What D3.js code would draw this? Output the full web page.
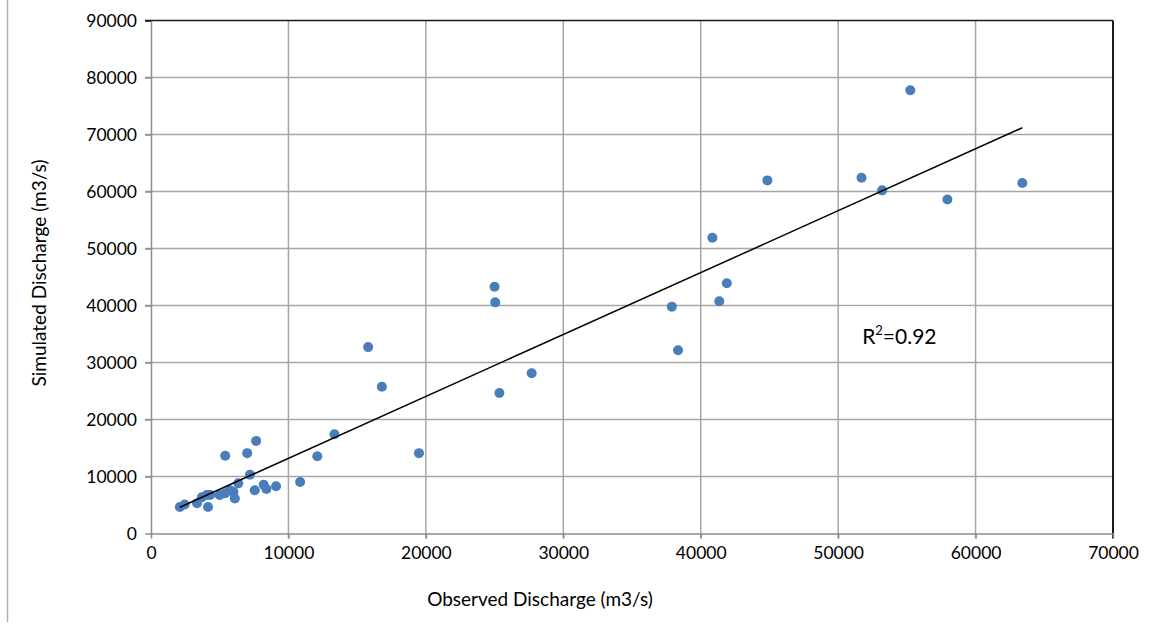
<!DOCTYPE html>
<html lang="en">
<meta charset="utf-8">
<head>
    <script src="https://d3js.org/d3.v7.min.js"></script>
    <style>
        body { margin: 0; background: #fff; }
        text { font-family: Lato, "Open Sans", sans-serif; fill: #000; }
    </style>
</head>
<body>
<script>
    // observed vs simulated discharge (m3/s)
    var observed = [63400, 55250, 51700, 53200, 57950, 44850, 40850, 41900, 41350, 37900,
        38350, 25000, 25050, 15800, 16800, 27700, 25350, 13350, 12100, 19500,
        10850, 7650, 7000, 5400, 7200, 7550, 9100, 8200, 8400, 6350,
        6100, 6000, 5750, 5400, 5000, 4300, 4150, 4050, 3700, 3350,
        2450, 2100];
    var simulated = [61500, 77750, 62400, 60200, 58600, 61950, 51900, 43900, 40750, 39800,
        32150, 43300, 40550, 32700, 25750, 28100, 24650, 17400, 13550, 14100,
        9050, 16250, 14100, 13650, 10300, 7600, 8300, 8550, 7800, 8800,
        6150, 7300, 7600, 7050, 6750, 6750, 4650, 6750, 6350, 5300,
        5100, 4650];
    var xTicks = [0, 10000, 20000, 30000, 40000, 50000, 60000, 70000];
    var yTicks = [0, 10000, 20000, 30000, 40000, 50000, 60000, 70000, 80000, 90000];
    // trend line (from the chart)
    var slope = 1.086;
    var intercept = 2330;
    var r2Label = "0.92";

    var width = 1150, height = 627;
    var marginLeft = 151, marginTop = 20.5, plotW = 962, plotH = 513;

    var svg = d3.select("body")
        .append("svg")
        .attr("width", width)
        .attr("height", height);

    // thin frame line on the far left
    svg.append("line")
        .attr("x1", 7.5).attr("x2", 7.5)
        .attr("y1", 0).attr("y2", 622)
        .attr("stroke", "#b0b0b0")
        .attr("stroke-width", 1.5);

    var g = svg.append("g")
        .attr("transform", "translate(" + marginLeft + "," + marginTop + ")");

    var x = d3.scaleLinear().domain([0, 70000]).range([0, plotW]);
    var y = d3.scaleLinear().domain([0, 90000]).range([plotH, 0]);

    // grid
    g.selectAll(".vgrid")
        .data(xTicks.slice(1, -1))
        .enter().append("line")
        .attr("class", "vgrid")
        .attr("x1", d => x(d)).attr("x2", d => x(d))
        .attr("y1", 0).attr("y2", plotH + 5)
        .attr("stroke", "#a6a6a6").attr("stroke-width", 1.5);

    g.selectAll(".hgrid")
        .data(yTicks.slice(1, -1))
        .enter().append("line")
        .attr("class", "hgrid")
        .attr("x1", -6).attr("x2", plotW)
        .attr("y1", d => y(d)).attr("y2", d => y(d))
        .attr("stroke", "#a6a6a6").attr("stroke-width", 1.5);

    // top & right border (dark)
    g.append("line")
        .attr("x1", -6).attr("x2", plotW)
        .attr("y1", 0).attr("y2", 0)
        .attr("stroke", "#1a1a1a").attr("stroke-width", 1.5);
    g.append("line")
        .attr("x1", plotW).attr("x2", plotW)
        .attr("y1", 0).attr("y2", plotH + 5)
        .attr("stroke", "#1a1a1a").attr("stroke-width", 2);

    // axes
    var xAxis = g.append("g")
        .attr("transform", "translate(0," + plotH + ")")
        .call(d3.axisBottom(x).tickValues(xTicks).tickSize(5).tickSizeOuter(0).tickPadding(8).tickFormat(d3.format("d")));
    var yAxis = g.append("g")
        .call(d3.axisLeft(y).tickValues(yTicks).tickSize(6).tickSizeOuter(0).tickPadding(8).tickFormat(d3.format("d")));

    [xAxis, yAxis].forEach(function(a) {
        a.selectAll("path, line").attr("stroke", "#8c8c8c").attr("stroke-width", 1.5);
        a.selectAll("text").attr("font-size", 17.5).style("font-family", "Lato, 'Open Sans', sans-serif");
    });
    yAxis.selectAll("line").filter(d => d === 90000).attr("stroke", "#1a1a1a");

    // points
    var pts = observed.map(function(d, i) { return {x: d, y: simulated[i]}; });
    g.selectAll(".dot")
        .data(pts)
        .enter().append("circle")
        .attr("class", "dot")
        .attr("cx", d => x(d.x))
        .attr("cy", d => y(d.y))
        .attr("r", 5)
        .attr("fill", "#4a7ebb");

    // trend line across the data range
    var xMin = d3.min(observed), xMax = d3.max(observed);
    g.append("line")
        .attr("x1", x(xMin)).attr("y1", y(slope * xMin + intercept))
        .attr("x2", x(xMax)).attr("y2", y(slope * xMax + intercept))
        .attr("stroke", "#000").attr("stroke-width", 1.5);

    // R2 label box
    g.append("rect")
        .attr("x", x(50000) + 1).attr("y", y(40000) + 1)
        .attr("width", x(60000) - x(50000) - 2)
        .attr("height", 51)
        .attr("fill", "#fff");
    var r2 = g.append("text")
        .attr("x", x(50000) + 24)
        .attr("y", y(40000) + 38)
        .attr("font-size", 21);
    r2.append("tspan").text("R");
    r2.append("tspan").attr("dy", -9).attr("font-size", 13).text("2");
    r2.append("tspan").attr("dy", 9).text("=" + r2Label);

    // axis titles
    svg.append("text")
        .attr("x", 540)
        .attr("y", 606)
        .attr("text-anchor", "middle")
        .attr("font-size", 19)
        .text("Observed Discharge (m3/s)");

    svg.append("text")
        .attr("transform", "translate(46," + 273 + ") rotate(-90)")
        .attr("text-anchor", "middle")
        .attr("font-size", 19)
        .text("Simulated Discharge (m3/s)");
</script>
</body>
</html>
